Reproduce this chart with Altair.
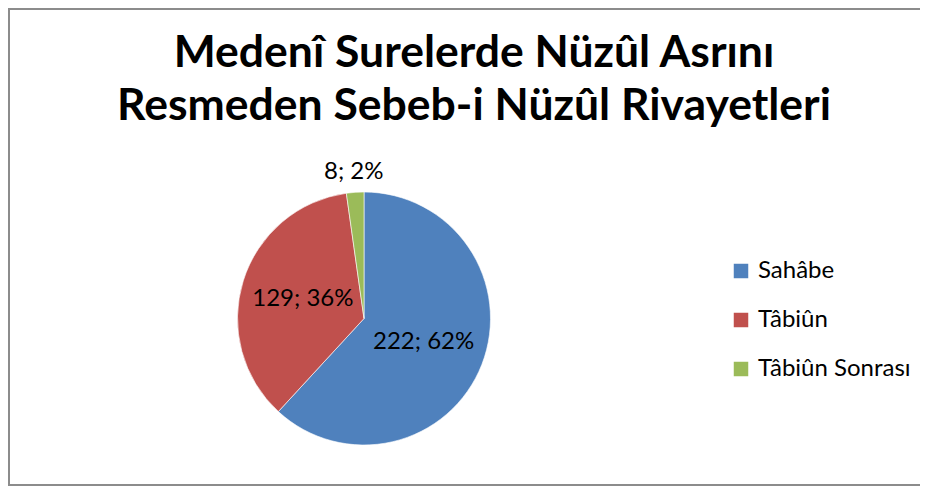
import altair as alt
import pandas as pd

categories = ["Sahâbe", "Tâbiûn", "Tâbiûn Sonrası"]
counts = [222, 129, 8]
percents = [62, 36, 2]
colors = ["#4F81BD", "#C0504D", "#9BBB59"]
title_lines = ["Medenî Surelerde Nüzûl Asrını", "Resmeden Sebeb-i Nüzûl Rivayetleri"]

df = pd.DataFrame({
    "cat": categories,
    "count": counts,
    "pct": percents,
    "idx": list(range(len(categories))),
})
df["label"] = [f"{c}; {p}%" for c, p in zip(counts, percents)]

W, H = 912, 478
CX, CY, R = 356, 310.5, 126.5
FONT = "Lato"

color_scale = alt.Scale(domain=categories, range=colors)

arcs = alt.Chart(df).mark_arc(outerRadius=R, stroke="white", strokeWidth=0.6).encode(
    theta=alt.Theta("count:Q", stack=True),
    order=alt.Order("idx:Q"),
    x=alt.value(CX),
    y=alt.value(CY),
    color=alt.Color(
        "cat:N",
        scale=color_scale,
        sort=categories,
        legend=alt.Legend(
            title=None,
            orient="none",
            legendX=721,
            legendY=251,
            symbolType="square",
            symbolSize=210,
            symbolStrokeWidth=0,
            labelFont=FONT,
            labelFontSize=24,
            labelColor="black",
            labelOffset=5,
            rowPadding=25,
            padding=0,
        ),
    ),
)

labels = alt.Chart(df).transform_window(
    cum="sum(count)",
    sort=[alt.SortField("idx", order="ascending")],
    frame=[None, 0],
).transform_calculate(
    mid="datum.cum - datum.count / 2",
    lr="datum.cat == 'Tâbiûn Sonrası' ? 147 : 64",
).mark_text(font=FONT, fontSize=24, color="black").encode(
    theta=alt.Theta("mid:Q", stack=None),
    x=alt.value(CX),
    y=alt.value(CY),
    radius=alt.Radius("lr:Q", scale=None),
    text="label:N",
)

one = alt.Chart(pd.DataFrame({"a": [0]}))
title = one.mark_text(
    font=FONT, fontSize=44.5, fontWeight="bold", color="black",
    align="center", baseline="alphabetic", lineHeight=53,
).encode(x=alt.value(466), y=alt.value(59), text=alt.value(title_lines))

border_color = "#8c8c8c"
left = one.mark_rule(color=border_color, strokeWidth=2).encode(
    x=alt.value(1), y=alt.value(0), y2=alt.value(H))
top = one.mark_rule(color=border_color, strokeWidth=2).encode(
    x=alt.value(0), x2=alt.value(W), y=alt.value(1))
bottom = one.mark_rule(color=border_color, strokeWidth=2).encode(
    x=alt.value(0), x2=alt.value(W), y=alt.value(H - 1))

chart = alt.layer(left, top, bottom, arcs, labels, title).properties(
    width=W, height=H, autosize="none", padding=0,
).configure_view(stroke=None)

chart.save("out.html", embed_options={"renderer": "svg", "actions": False})
